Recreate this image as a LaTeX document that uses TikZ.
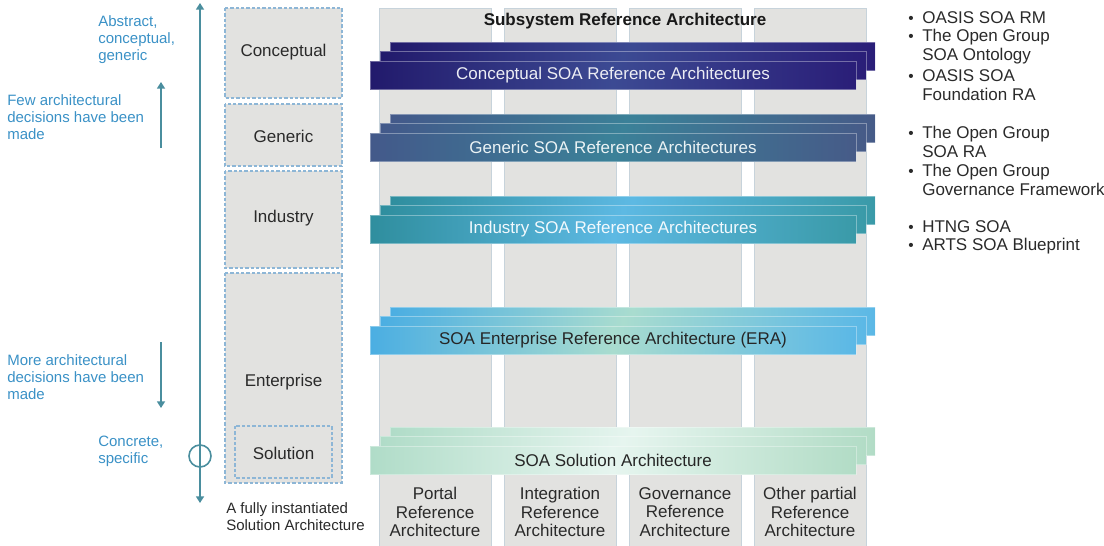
\documentclass[tikz,border=0pt]{standalone}
\usepackage{fontspec}
\setmainfont{Liberation Sans}
\usetikzlibrary{arrows.meta}

\definecolor{colfill}{HTML}{E2E2E0}
\definecolor{coledge}{HTML}{C7D3DB}
\definecolor{boxedge}{HTML}{8DB6D6}
\definecolor{bluetext}{HTML}{3A91C6}
\definecolor{arrowc}{HTML}{4A8E9E}
\definecolor{darktext}{HTML}{2A2A2A}
\definecolor{cAl}{HTML}{221A6C}\definecolor{cAm}{HTML}{3C4A93}\definecolor{cAr}{HTML}{2A1E78}
\definecolor{cBl}{HTML}{43598A}\definecolor{cBm}{HTML}{3B8198}\definecolor{cBr}{HTML}{465B88}
\definecolor{cCl}{HTML}{2F8E9E}\definecolor{cCm}{HTML}{5DB9E3}\definecolor{cCr}{HTML}{3A9AA8}
\definecolor{cDl}{HTML}{4BAEE2}\definecolor{cDm}{HTML}{A9DCCF}\definecolor{cDr}{HTML}{5BB8E6}
\definecolor{cEl}{HTML}{B0DCC8}\definecolor{cEm}{HTML}{E6F5EF}\definecolor{cEr}{HTML}{B2DCC6}

\tikzset{
  colbox/.style={fill=colfill, draw=coledge, line width=0.6pt},
  lvlbox/.style={fill=colfill, draw=boxedge, line width=1pt, dash pattern=on 2.5pt off 1.5pt},
  txtbig/.style={font=\fontsize{12.75}{14}\selectfont, inner sep=0pt, text=darktext},
  txtsmall/.style={font=\fontsize{11.25}{12.75}\selectfont, inner sep=0pt, text=bluetext, align=left, anchor=west},
  bullettxt/.style={font=\fontsize{12.75}{14.25}\selectfont, inner sep=0pt, text=darktext, align=left, anchor=west},
  bandA/.style={left color=cAl, right color=cAr, middle color=cAm},
  bandB/.style={left color=cBl, right color=cBr, middle color=cBm},
  bandC/.style={left color=cCl, right color=cCr, middle color=cCm},
  bandD/.style={left color=cDl, right color=cDr, middle color=cDm},
  bandE/.style={left color=cEl, right color=cEr, middle color=cEm},
  bandedge/.style={draw=white, draw opacity=0.35, line width=0.4pt},
  arr/.style={draw=arrowc, line width=1.4pt, -{Triangle[width=6pt,length=5pt]}},
}

\newcommand{\soaband}[2]{%
  \shade[#1, bandedge] (390,#2-19) rectangle (875,#2+9);
  \shade[#1, bandedge] (380,#2-9.5) rectangle (866,#2+18.5);
  \shade[#1, bandedge] (370,#2) rectangle (856,#2+28);
}
\newcommand{\bul}{\makebox[10.5pt][l]{\fontsize{11.5}{11.5}\selectfont\textbullet}}
\newcommand{\ind}{\hspace*{10.5pt}}

\begin{document}
\begin{tikzpicture}[x=0.75pt,y=-0.75pt]
\useasboundingbox (0,0) rectangle (1104,546);

% columns
\foreach \cx in {379,504,629,754}{
  \draw[colbox] (\cx,8) rectangle (\cx+112,546);
}

% left level boxes
\draw[lvlbox] (225,8) rectangle (342,98);
\draw[lvlbox] (225,104) rectangle (342,166);
\draw[lvlbox] (225,171) rectangle (342,268);
\draw[lvlbox] (225,273) rectangle (342,483);
\draw[lvlbox] (235,426) rectangle (332,478);

\node[txtbig] (lconc) at (283.5,52) {Conceptual};
\node[txtbig] (lgen)  at (283.5,136) {Generic};
\node[txtbig] (lind)  at (283.5,218) {Industry};
\node[txtbig] (lent)  at (283.5,382) {Enterprise};
\node[txtbig] (lsol)  at (283.5,453) {Solution};

% title
\node[txtbig, font=\fontsize{12.75}{14}\selectfont\bfseries, text=black!90] (title) at (625,21) {Subsystem Reference Architecture};

% bands
\soaband{bandA}{61}
\soaband{bandB}{133}
\soaband{bandC}{215}
\soaband{bandD}{326}
\soaband{bandE}{446}

\node[txtbig, text=white!90!cAm] (tA) at (613,75) {Conceptual SOA Reference Architectures};
\node[txtbig, text=white!90!cBm] (tB) at (613,147) {Generic SOA Reference Architectures};
\node[txtbig, text=white!92!cCm] (tC) at (613,229) {Industry SOA Reference Architectures};
\node[txtbig, text=black!85] (tD) at (613,340) {SOA Enterprise Reference Architecture (ERA)};
\node[txtbig, text=black!85] (tE) at (613,460) {SOA Solution Architecture};

% column labels
\node[txtbig, align=center, font=\fontsize{12.75}{13.9}\selectfont] (c1) at (435,512) {Portal\\Reference\\Architecture};
\node[txtbig, align=center, font=\fontsize{12.75}{13.9}\selectfont] (c2) at (560,512) {Integration\\Reference\\Architecture};
\node[txtbig, align=center, font=\fontsize{12.75}{13.9}\selectfont] (c3) at (685,512) {Governance\\Reference\\Architecture};
\node[txtbig, align=center, font=\fontsize{12.75}{13.9}\selectfont] (c4) at (810,512) {Other partial\\Reference\\Architecture};

% main axis
\coordinate (atop) at (200,3);
\coordinate (abot) at (200,503);
\draw[arr, {Triangle[width=6pt,length=5pt]}-{Triangle[width=6pt,length=5pt]}] (abot) -- (atop);
\node[circle, draw=arrowc, line width=1.2pt, minimum size=16.5pt, inner sep=0pt] (ring) at (200,456) {};

% small arrows
\coordinate (upA) at (161,148);
\coordinate (upB) at (161,82);
\draw[arr] (upA) -- (upB);
\coordinate (dnA) at (161,342);
\coordinate (dnB) at (161,408);
\draw[arr] (dnA) -- (dnB);

% left blue texts
\node[txtsmall] (abs) at (98,40) {Abstract,\\conceptual,\\generic};
\node[txtsmall] (few) at (7,117.5) {Few architectural\\decisions have been\\made};
\node[txtsmall] (more) at (7,377) {More architectural\\decisions have been\\made};
\node[txtsmall] (conc) at (98,451.5) {Concrete,\\specific};
\node[txtsmall, text=darktext] (full) at (226,516.5) {A fully instantiated\\Solution Architecture};

% right bullet lists
\node[bullettxt] (r1) at (908,18) {\bul OASIS SOA RM};
\node[bullettxt] (r2) at (908,47) {\bul The Open Group\\\ind SOA Ontology};
\node[bullettxt] (r3) at (908,85) {\bul OASIS SOA\\\ind Foundation RA};
\node[bullettxt] (r4) at (908,141.5) {\bul The Open Group\\\ind SOA RA};
\node[bullettxt] (r5) at (908,179.5) {\bul The Open Group\\\ind Governance Framework};
\node[bullettxt] (r6) at (908,227) {\bul HTNG SOA};
\node[bullettxt] (r7) at (908,246) {\bul ARTS SOA Blueprint};
\end{tikzpicture}
\end{document}
